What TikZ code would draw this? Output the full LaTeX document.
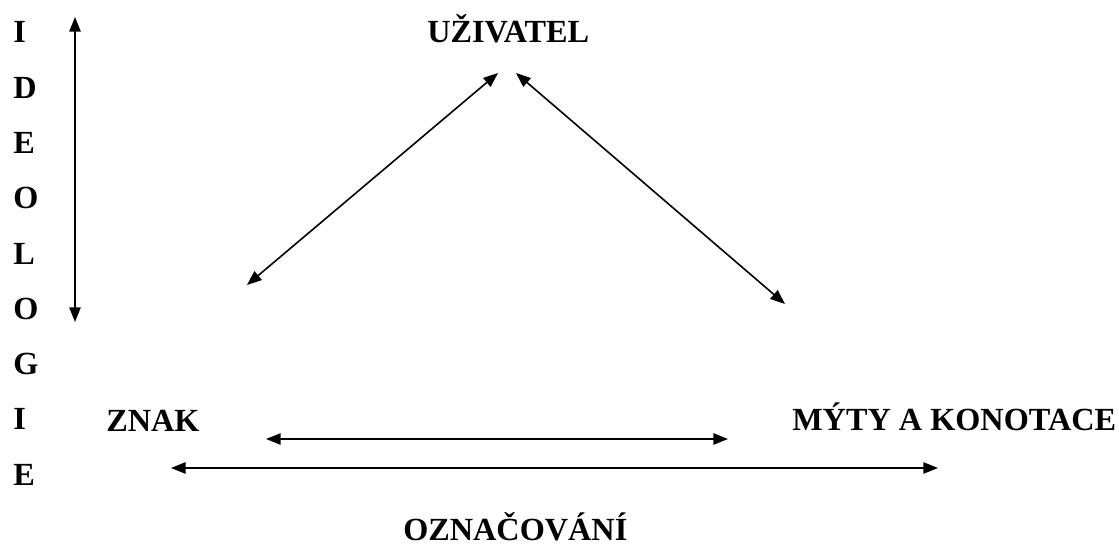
\documentclass[tikz,border=0pt]{standalone}
\usepackage{fontspec}
\setmainfont{Liberation Serif}
\usetikzlibrary{arrows.meta}
\tikzset{
  lbl/.style={font=\bfseries\fontsize{24.2}{28}\selectfont, inner sep=0pt, anchor=base west},
  dbl/.style={{Triangle[length=11pt,width=8.5pt]}-{Triangle[length=11pt,width=8.5pt]}, line width=1.2pt}
}
\begin{document}
\begin{tikzpicture}[x=0.75pt,y=-0.75pt]
\useasboundingbox (0,0) rectangle (1119,545);
% vertical word
\foreach \ch [count=\i from 0] in {I,D,E,O,L,O,G,I,E}{
  \node[lbl] (v\i) at (13,43+55.25*\i) {\ch};
}
\node[lbl] (uzivatel) at (427,43) {UŽIVATEL};
\node[lbl] (znak) at (106,431) {ZNAK};
\node[lbl] (myty) at (792,430) {MÝTY A KONOTACE};
\node[lbl] (oznac) at (403,540) {OZNAČOVÁNÍ};
% arrow end points
\coordinate (vt) at (75,17);
\coordinate (vb) at (75,322);
\coordinate (lt) at (498,73);
\coordinate (lb) at (247,285);
\coordinate (rt) at (516,73);
\coordinate (rb) at (785,304);
\coordinate (il) at (266,439);
\coordinate (ir) at (728,439);
\coordinate (ol) at (171,468);
\coordinate (or) at (938,468);
\draw[dbl] (vt) -- (vb);
\draw[dbl] (lt) -- (lb);
\draw[dbl] (rt) -- (rb);
\draw[dbl] (il) -- (ir);
\draw[dbl] (ol) -- (or);
\end{tikzpicture}
\end{document}
